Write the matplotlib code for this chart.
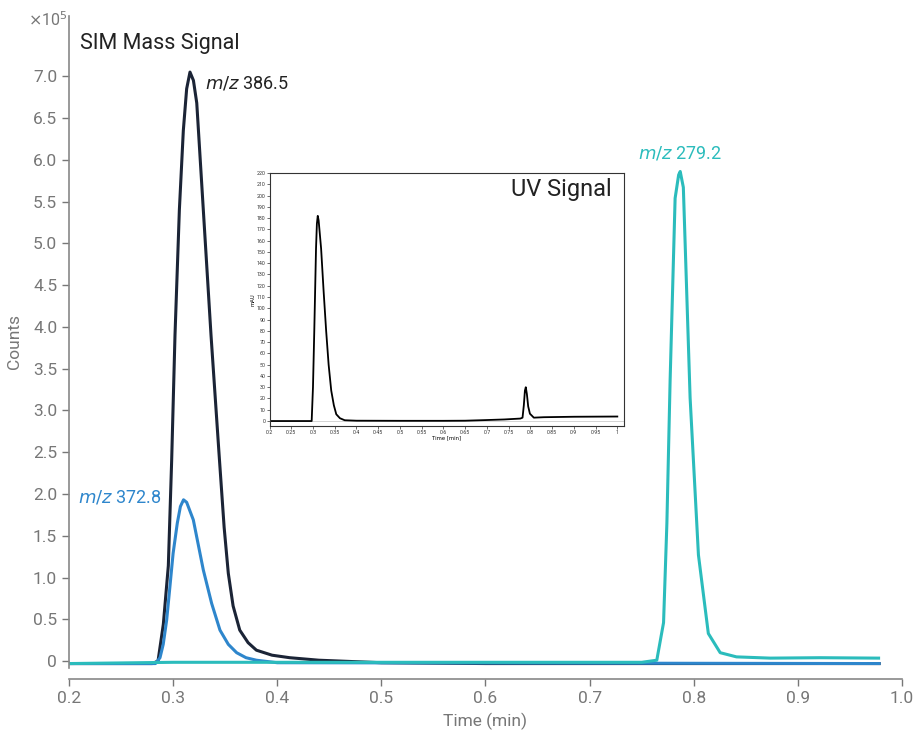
import matplotlib
matplotlib.use("Agg")
import matplotlib.pyplot as plt
from matplotlib.ticker import FuncFormatter

plt.rcParams['font.family'] = ['Roboto', 'DejaVu Sans']

# SIM mass traces (counts, x1e5)
t_3865 = [0.20, 0.28, 0.2855, 0.2906, 0.2954, 0.2986, 0.3018, 0.306, 0.3098, 0.313,
          0.3162, 0.3195, 0.3227, 0.329, 0.3364, 0.344, 0.349, 0.353, 0.3576,
          0.364, 0.372, 0.380, 0.395, 0.412, 0.44, 0.50, 0.60, 0.978]
y_3865 = [-0.03, -0.03, 0.0, 0.44, 1.14, 2.4, 3.9, 5.4, 6.35, 6.85,
          7.05, 6.95, 6.68, 5.4, 3.9, 2.5, 1.6, 1.05, 0.66,
          0.37, 0.22, 0.13, 0.07, 0.04, 0.01, -0.02, -0.03, -0.03]

t_3728 = [0.20, 0.283, 0.2874, 0.2905, 0.2938, 0.297, 0.300, 0.304, 0.307, 0.310,
          0.313, 0.3194, 0.329, 0.337, 0.345, 0.353, 0.361, 0.370, 0.380, 0.40, 0.978]
y_3728 = [-0.03, -0.03, 0.04, 0.2, 0.49, 0.9, 1.29, 1.65, 1.85, 1.93,
          1.9, 1.69, 1.09, 0.69, 0.37, 0.2, 0.10, 0.04, 0.01, -0.02, -0.03]

t_2792 = [0.20, 0.30, 0.50, 0.75, 0.7645, 0.771, 0.7742, 0.7773, 0.7821, 0.7855,
          0.787, 0.790, 0.7965, 0.8045, 0.814, 0.8254, 0.841, 0.8734, 0.9214, 0.9775]
y_2792 = [-0.03, -0.015, -0.015, -0.015, 0.01, 0.46, 1.65, 3.36, 5.54, 5.82,
          5.86, 5.67, 3.15, 1.27, 0.33, 0.10, 0.05, 0.035, 0.04, 0.035]

# UV trace (mAU)
t_uv = [0.20, 0.25, 0.297, 0.300, 0.303, 0.307, 0.309, 0.311, 0.313, 0.3187,
        0.3245, 0.3303, 0.336, 0.342, 0.348, 0.3536, 0.362, 0.373, 0.40, 0.50,
        0.60, 0.65, 0.693, 0.740, 0.777, 0.782, 0.785, 0.7875, 0.7895, 0.792,
        0.795, 0.799, 0.808, 0.831, 0.90, 1.00]
uv = [0.0, 0.0, 0.0, 30, 80, 153, 175, 182, 178, 153,
      115, 80, 50, 27, 14, 6, 2.5, 0.7, 0.3, 0.2,
      0.2, 0.3, 0.8, 1.4, 2.2, 3.0, 14, 27, 30, 24,
      13, 6.5, 3.0, 3.4, 3.8, 4.0]

x_ticks = [0.2, 0.3, 0.4, 0.5, 0.6, 0.7, 0.8, 0.9, 1.0]
y_ticks = [0, 0.5, 1.0, 1.5, 2.0, 2.5, 3.0, 3.5, 4.0, 4.5, 5.0, 5.5, 6.0, 6.5, 7.0]
uv_xticks = [0.2, 0.25, 0.3, 0.35, 0.4, 0.45, 0.5, 0.55, 0.6, 0.65, 0.7,
             0.75, 0.8, 0.85, 0.9, 0.95, 1.0]
uv_yticks = list(range(0, 230, 10))

c_dark = '#1b2436'
c_blue = '#2e86cc'
c_teal = '#2bbcbc'
grey = '#777777'

fig = plt.figure(figsize=(9.15, 7.32), dpi=100)
ax = fig.add_axes([0.0754, 0.0878, 0.9104, 0.8902])

ax.plot(t_3865, y_3865, color=c_dark, lw=2.2)
ax.plot(t_3728, y_3728, color=c_blue, lw=2.2)
ax.plot(t_2792, y_2792, color=c_teal, lw=2.2)

ax.set_xlim(0.2, 1.0)
ax.set_ylim(-0.08, 7.72)
ax.set_xticks(x_ticks)
ax.set_yticks(y_ticks)
ax.xaxis.set_major_formatter(FuncFormatter(lambda v, p: f'{v:.1f}'))
ax.yaxis.set_major_formatter(FuncFormatter(lambda v, p: '0' if v == 0 else f'{v:.1f}'))
for s in ['top', 'right']:
    ax.spines[s].set_visible(False)
ax.spines['bottom'].set_position(('outward', 8))
for s in ['left', 'bottom']:
    ax.spines[s].set_color('#888888')
    ax.spines[s].set_linewidth(1.2)
ax.tick_params(colors=grey, labelsize=12.5, length=5, width=1, labelcolor=grey)
ax.set_xlabel('Time (min)', color=grey, fontsize=12.5, labelpad=5)
ax.set_ylabel('Counts', color=grey, fontsize=12.5, labelpad=8)

fig.text(28 / 915, 1 - 20 / 732, r'$\times$10$^5$', color=grey, fontsize=11.5,
         va='center', ha='left')
fig.text(80 / 915, 1 - 44 / 732, 'SIM Mass Signal', color='#222222', fontsize=15.5,
         va='center', ha='left')
fig.text(205 / 915, 1 - 84 / 732, r'$m/z$ 386.5', color='#222222', fontsize=13,
         va='center', ha='left')
fig.text(162 / 915, 1 - 497 / 732, r'$m/z$ 372.8', color=c_blue, fontsize=13,
         va='center', ha='right')
fig.text(680 / 915, 1 - 153 / 732, r'$m/z$ 279.2', color=c_teal, fontsize=13,
         va='center', ha='center')

# inset with UV trace
ins = fig.add_axes([269.5 / 915, 1 - 426 / 732, 354.5 / 915, 253 / 732])
ins.plot(t_uv, uv, color='black', lw=1.3)
ins.axhline(0, color='#cccccc', lw=0.6, zorder=0)
ins.set_xlim(0.2, 1.0154)
ins.set_ylim(-4.4, 220)
ins.set_xticks(uv_xticks)
ins.set_yticks(uv_yticks)
ins.xaxis.set_major_formatter(FuncFormatter(lambda v, p: f'{v:g}'))
ins.tick_params(labelsize=3.8, length=2, width=0.5, pad=1, colors='#333333')
ins.set_xlabel('Time [min]', fontsize=3.8, labelpad=0, family='DejaVu Sans')
ins.set_ylabel('mAU', fontsize=3.8, labelpad=1, family='DejaVu Sans')
for s in ins.spines.values():
    s.set_linewidth(0.8)
    s.set_color('#333333')
ins.text(0.966, 0.933, 'UV Signal', transform=ins.transAxes, fontsize=17,
         ha='right', va='center', color='#222222')

fig.savefig('out.png', dpi=100)
